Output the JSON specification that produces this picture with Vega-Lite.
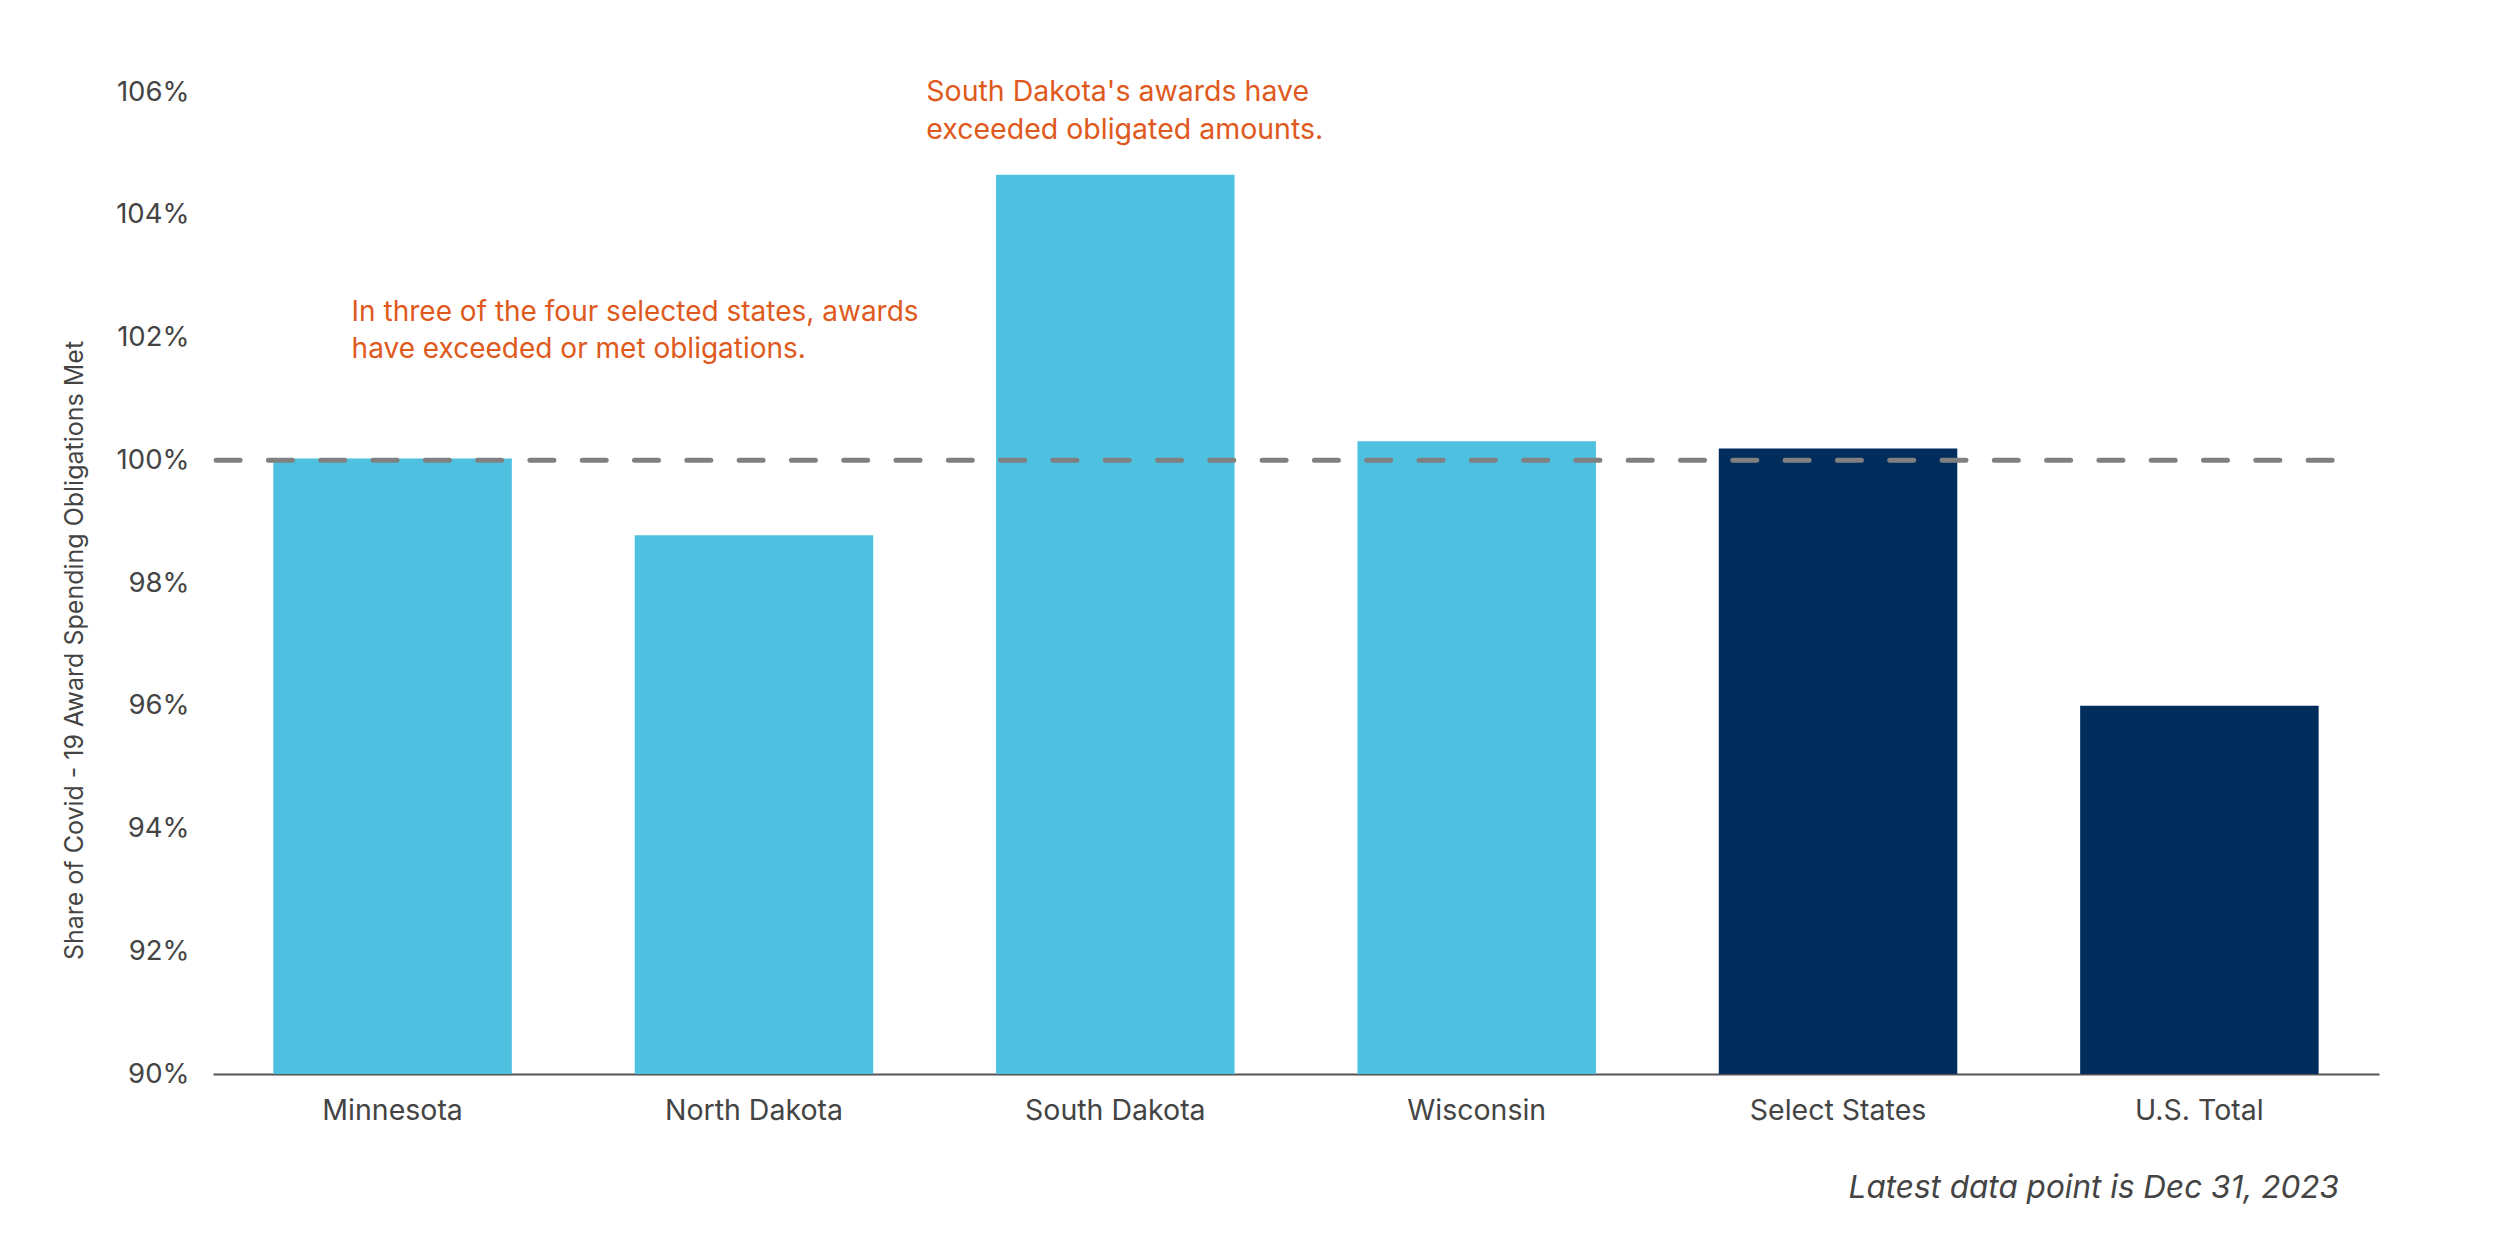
{
  "$schema": "https://vega.github.io/schema/vega-lite/v6.json",
  "width": 2166,
  "height": 982,
  "autosize": {"type": "none"},
  "padding": {"left": 213, "top": 92, "right": 121, "bottom": 176},
  "background": "white",
  "config": {"view": {"stroke": null}, "font": "Inter"},
  "title": {
    "text": "Latest data point is Dec 31, 2023",
    "orient": "bottom",
    "anchor": "end",
    "fontStyle": "italic",
    "fontWeight": "normal",
    "fontSize": 31.5,
    "color": "#444444",
    "dx": -40,
    "offset": 48
  },
  "datasets": {
    "bars": [
      {"region": "Minnesota", "share": 100.03, "group": "State"},
      {"region": "North Dakota", "share": 98.78, "group": "State"},
      {"region": "South Dakota", "share": 104.65, "group": "State"},
      {"region": "Wisconsin", "share": 100.31, "group": "State"},
      {"region": "Select States", "share": 100.19, "group": "Aggregate"},
      {"region": "U.S. Total", "share": 96.0, "group": "Aggregate"}
    ],
    "ref": [{"level": 100, "region": "Minnesota", "to": "U.S. Total"}],
    "note1": [
      {"region": "Minnesota", "y": 102.27, "label": ["In three of the four selected states, awards", "have exceeded or met obligations."]}
    ],
    "note2": [
      {"region": "South Dakota", "y": 105.85, "label": ["South Dakota's awards have", "exceeded obligated amounts."]}
    ]
  },
  "encoding": {
    "x": {
      "field": "region",
      "type": "nominal",
      "scale": {
        "domain": ["Minnesota", "North Dakota", "South Dakota", "Wisconsin", "Select States", "U.S. Total"],
        "paddingInner": 0.34,
        "paddingOuter": 0.167
      },
      "axis": {
        "title": null,
        "labelAngle": 0,
        "labelFontSize": 28.5,
        "labelLimit": 500,
        "labelColor": "#444444",
        "labelPadding": 22,
        "ticks": false,
        "domainColor": "#555555",
        "domainWidth": 2,
        "grid": false
      }
    }
  },
  "layer": [
    {
      "data": {"name": "bars"},
      "mark": {"type": "bar"},
      "encoding": {
        "y": {
          "field": "share",
          "type": "quantitative",
          "scale": {"domain": [90, 106], "nice": false, "zero": false},
          "axis": {
            "title": "Share of Covid - 19 Award Spending Obligations Met",
            "values": [90, 92, 94, 96, 98, 100, 102, 104, 106],
            "labelExpr": "datum.value + '%'",
            "ticks": false,
            "domain": false,
            "grid": false,
            "labelFontSize": 27.5,
            "labelColor": "#444444",
            "labelPadding": 24,
            "titleFontSize": 25,
            "titleFontWeight": "normal",
            "titleColor": "#444444",
            "titleX": -139,
            "titleY": 558,
            "titleBaseline": "middle"
          }
        },
        "y2": {"datum": 90},
        "color": {
          "field": "group",
          "type": "nominal",
          "scale": {"domain": ["State", "Aggregate"], "range": ["#4DC1DF", "#002D5C"]},
          "legend": null
        }
      }
    },
    {
      "data": {"name": "ref"},
      "mark": {"type": "rule", "strokeDash": [24, 28.3], "strokeWidth": 5, "color": "#808080", "strokeCap": "round"},
      "encoding": {
        "y": {"field": "level", "type": "quantitative"},
        "x": {
          "field": "region",
          "type": "nominal",
          "scale": {
            "domain": ["Minnesota", "North Dakota", "South Dakota", "Wisconsin", "Select States", "U.S. Total"]
          },
          "bandPosition": -0.24
        },
        "x2": {"field": "to", "bandPosition": 1.08}
      }
    },
    {
      "data": {"name": "note1"},
      "mark": {"type": "text", "align": "left", "baseline": "alphabetic", "fontSize": 28, "lineHeight": 37.5, "color": "#E0591C", "dx": -41},
      "encoding": {
        "y": {"field": "y", "type": "quantitative"},
        "text": {"field": "label"}
      }
    },
    {
      "data": {"name": "note2"},
      "mark": {"type": "text", "align": "left", "baseline": "alphabetic", "fontSize": 28.5, "lineHeight": 37.5, "color": "#E0591C", "dx": -189},
      "encoding": {
        "y": {"field": "y", "type": "quantitative"},
        "text": {"field": "label"}
      }
    }
  ]
}
